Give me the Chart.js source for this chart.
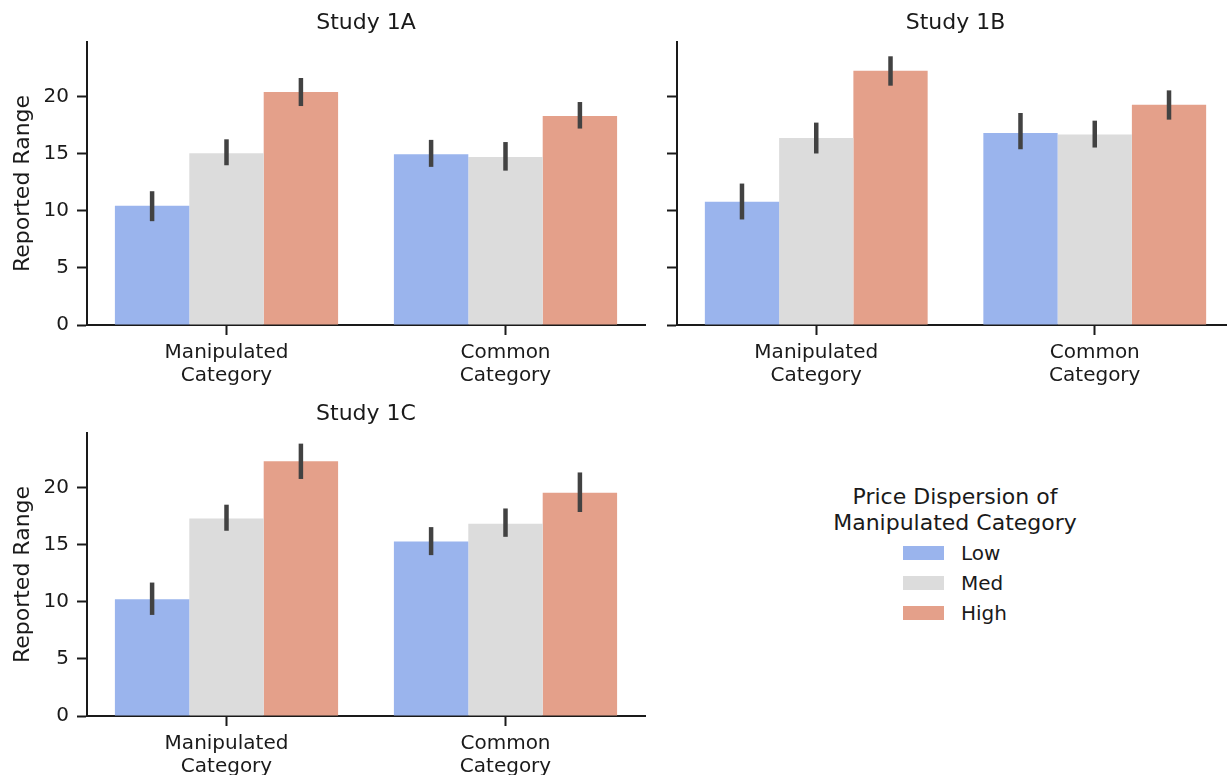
<!DOCTYPE html>
<html>
<head>
<meta charset="utf-8">
<script src="https://cdn.jsdelivr.net/npm/chart.js@4.4.1/dist/chart.umd.min.js"></script>
<style>
  html, body { margin: 0; padding: 0; background: #fff; overflow: hidden; width: 1227px; height: 775px; }
  body { position: relative; font-family: 'DejaVu Sans', sans-serif; color: #1a1a1a; }
  canvas { position: absolute; }
  #legend { position: absolute; left: 760px; top: 484px; width: 390px; }
  #legend .ttl { font-size: 22px; line-height: 26px; text-align: center; }
  .row { position: absolute; height: 30px; display: flex; align-items: center; font-size: 20px; line-height: 20px; }
  .sw { width: 41px; height: 14px; margin-right: 17px; }
</style>
</head>
<body>
<canvas id="c1a" width="660" height="400" style="left:0px;top:0px;"></canvas>
<canvas id="c1b" width="600" height="400" style="left:650px;top:0px;"></canvas>
<canvas id="c1c" width="660" height="400" style="left:0px;top:391px;"></canvas>
<div id="legend"></div>
<script>
// ---- data ----
const categories = [['Manipulated', 'Category'], ['Common', 'Category']];
const levels = ['Low', 'Med', 'High'];
const levelColors = ['#9ab4ed', '#dcdcdc', '#e4a08a'];
const yTicks = [0, 5, 10, 15, 20];
const yMax = 24.75;
const legendTitle = ['Price Dispersion of', 'Manipulated Category'];

const study1A_low  = [10.42, 14.93];
const study1A_med  = [15.02, 14.70];
const study1A_high = [20.38, 18.28];
const study1A_low_ci  = [[9.08, 11.70], [13.83, 16.19]];
const study1A_med_ci  = [[13.97, 16.24], [13.50, 16.00]];
const study1A_high_ci = [[19.15, 21.60], [17.18, 19.50]];

const study1B_low  = [10.77, 16.80];
const study1B_med  = [16.36, 16.65];
const study1B_high = [22.24, 19.27];
const study1B_low_ci  = [[9.23, 12.37], [15.37, 18.54]];
const study1B_med_ci  = [[15.00, 17.70], [15.52, 17.87]];
const study1B_high_ci = [[20.93, 23.50], [17.96, 20.52]];

const study1C_low  = [10.22, 15.26];
const study1C_med  = [17.28, 16.81];
const study1C_high = [22.27, 19.53];
const study1C_low_ci  = [[8.84, 11.67], [14.07, 16.52]];
const study1C_med_ci  = [[16.20, 18.48], [15.67, 18.15]];
const study1C_high_ci = [[20.73, 23.82], [17.84, 21.30]];

// ---- rendering ----
const FONT = 'DejaVu Sans';
const INK = '#1a1a1a';

const errorBarPlugin = {
  id: 'errbars',
  afterDatasetsDraw(chart) {
    const ctx = chart.ctx;
    const ys = chart.scales.y;
    chart.data.datasets.forEach((ds, i) => {
      const meta = chart.getDatasetMeta(i);
      meta.data.forEach((bar, j) => {
        const ci = ds.ci[j];
        ctx.save();
        ctx.strokeStyle = '#424242';
        ctx.lineWidth = 4.5;
        ctx.lineCap = 'butt';
        ctx.beginPath();
        ctx.moveTo(bar.x, ys.getPixelForValue(ci[0]));
        ctx.lineTo(bar.x, ys.getPixelForValue(ci[1]));
        ctx.stroke();
        ctx.restore();
      });
    });
  }
};

// panel title centred over the plot area (like a matplotlib axes title)
const panelTitlePlugin = {
  id: 'panelTitle',
  afterDraw(chart, args, opts) {
    const ctx = chart.ctx;
    const a = chart.chartArea;
    ctx.save();
    ctx.fillStyle = INK;
    ctx.font = '22px "' + FONT + '"';
    ctx.textAlign = 'center';
    ctx.textBaseline = 'middle';
    ctx.fillText(opts.text, (a.left + a.right) / 2, a.top - 18.5);
    ctx.restore();
  }
};

function makeChart(id, title, series, cis, showY, yWidth, padRight) {
  const datasets = levels.map((lv, k) => ({
    label: lv,
    data: series[k],
    ci: cis[k],
    backgroundColor: levelColors[k],
    borderWidth: 0,
    categoryPercentage: 0.8,
    barPercentage: 1.0
  }));
  return new Chart(document.getElementById(id), {
    type: 'bar',
    data: { labels: categories, datasets },
    plugins: [errorBarPlugin, panelTitlePlugin],
    options: {
      responsive: false,
      animation: false,
      layout: { padding: { left: 0, right: padRight, top: 42, bottom: 0 } },
      plugins: {
        legend: { display: false },
        tooltip: { enabled: false },
        title: { display: false },
        panelTitle: { text: title }
      },
      scales: {
        x: {
          offset: true,
          grid: { display: true, drawOnChartArea: false, drawTicks: true, tickLength: 10, tickWidth: 2, tickColor: INK, offset: false },
          border: { display: true, color: INK, width: 2 },
          ticks: { color: INK, font: { family: FONT, size: 20, lineHeight: 1.15 }, padding: 6, maxRotation: 0, autoSkip: false },
          afterFit(s) { s.height = 75; }
        },
        y: {
          min: 0, max: yMax,
          afterBuildTicks(s) { s.ticks = yTicks.map(v => ({ value: v })); },
          grid: { display: true, drawOnChartArea: false, drawTicks: true, tickLength: 10, tickWidth: 2, tickColor: INK },
          border: { display: true, color: INK, width: 2 },
          ticks: { display: showY, color: INK, font: { family: FONT, size: 20 }, padding: 8 },
          title: {
            display: showY, text: 'Reported Range', color: INK,
            font: { family: FONT, size: 22, lineHeight: 1.2 },
            padding: { top: 10, bottom: 0 }
          },
          afterFit(s) { s.width = yWidth; }
        }
      }
    }
  });
}

makeChart('c1a', 'Study 1A', [study1A_low, study1A_med, study1A_high], [study1A_low_ci, study1A_med_ci, study1A_high_ci], true, 87, 15);
makeChart('c1b', 'Study 1B', [study1B_low, study1B_med, study1B_high], [study1B_low_ci, study1B_med_ci, study1B_high_ci], false, 27, 16);
makeChart('c1c', 'Study 1C', [study1C_low, study1C_med, study1C_high], [study1C_low_ci, study1C_med_ci, study1C_high_ci], true, 87, 15);

// legend
const leg = document.getElementById('legend');
legendTitle.forEach(t => {
  const d = document.createElement('div');
  d.className = 'ttl';
  d.textContent = t;
  leg.appendChild(d);
});
levels.forEach((lv, k) => {
  const r = document.createElement('div');
  r.className = 'row';
  r.style.left = (903 - 760) + 'px';
  r.style.top = (537.5 + 30 * k - 484) + 'px';
  const sw = document.createElement('div');
  sw.className = 'sw';
  sw.style.background = levelColors[k];
  const tx = document.createElement('span');
  tx.textContent = lv;
  r.appendChild(sw);
  r.appendChild(tx);
  leg.appendChild(r);
});
</script>
</body>
</html>
